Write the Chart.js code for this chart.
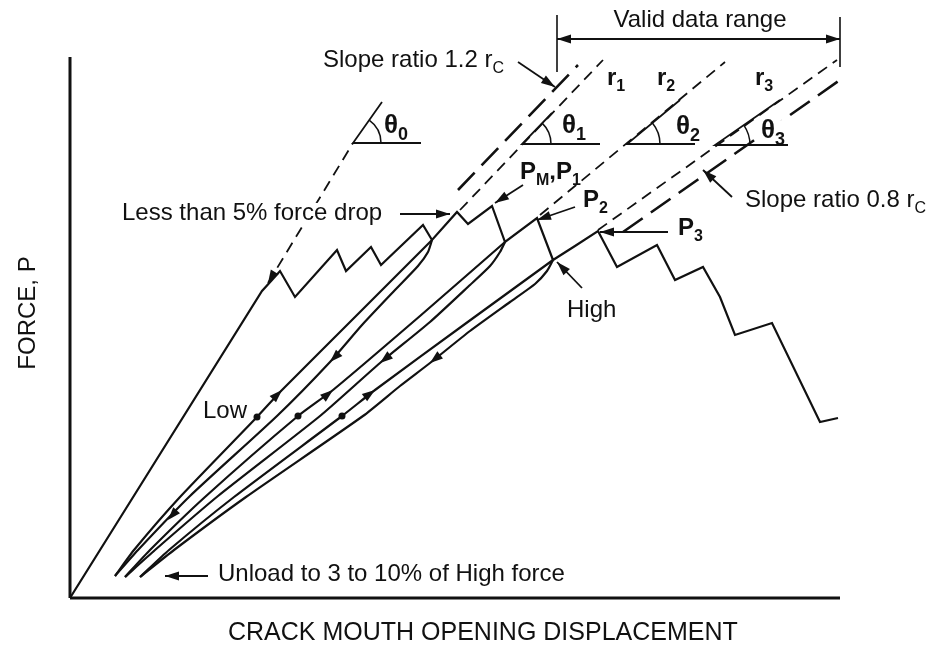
<!DOCTYPE html>
<html>
<head>
<meta charset="utf-8">
<script src="https://cdn.jsdelivr.net/npm/chart.js@4.4.1/dist/chart.umd.min.js"></script>
<style>
  html, body { margin: 0; padding: 0; background: #fff; }
  #wrap { width: 935px; height: 658px; position: relative; }
</style>
</head>
<body>
<div id="wrap"><canvas id="chart"></canvas></div>
<script>
// schematic, arbitrary units: CMOD 0..770, force 0..541
const cmodMax = 770;
const forceMax = 541;

// load record with pop-ins, drops and the final saw-tooth
const envelope = [[0,0],[192,307],[202,318],[210,327],[225,301],[267,348],[276,327],[301,351],[311,333],[353,373],[362,358],[387,386],[398,374],[422,392],[435,356],[467,380],[483,338],[505,352],[528,367],[547,331],[587,353],[605,318],[633,331],[650,301],[665,263],[702,275],[750,176],[768,180]];

// unload / reload loops
const unload1 = [[362,358],[358,346],[348,332],[325,308],[292,273],[260,236],[207,182],[120,102],[68,48],[45,22]];
const reload1 = [[45,22],[64,48],[110,101],[187,181],[212,208],[287,283],[362,358]];
const unload2 = [[435,356],[430,346],[420,332],[400,313],[360,276],[310,235],[250,182],[148,102],[85,48],[55,21]];
const reload2 = [[55,21],[80,48],[135,101],[228,182],[263,208],[350,282],[435,356]];
const unload3 = [[483,338],[477,327],[465,314],[440,296],[400,267],[360,235],[330,212],[293,182],[176,101],[104,48],[70,21]];
const reload3 = [[70,21],[99,48],[164,101],[272,182],[305,208],[395,274],[483,338]];
const lowPoints = [[187,181],[228,182],[272,182]];

// secant lines
const r0Line = [[198,315],[283,455]];
const r1Line = [[390,388],[533,538]];
const r2Line = [[470,383],[655,536]];
const r3Line = [[528,368],[767,538]];
const upperBound = [[388,408],[508,533]];
const lowerBound = [[553,366],[770,518]];

// angle marks: vertex, end of sloped leg, end of level leg
const angleMarks = [
  { v: [283,455], leg: [312,496], level: 351, r: 28 },
  { v: [452,454], leg: [482,485], level: 530, r: 29 },
  { v: [557,454], leg: [610,498], level: 625, r: 33 },
  { v: [645,453], leg: [710,498], level: 718, r: 35 }
];

// valid data range bracket
const rangeTicks = [[[487,583],[487,526]], [[770,581],[770,531]]];

const notes = [
  { text: 'Valid data range', at: [630,578], align: 'center' },
  { text: 'Slope ratio 1.2 r_{C}', at: [253,538] },
  { text: 'Less than 5% force drop', at: [52,385], knockout: true },
  { text: 'Slope ratio 0.8 r_{C}', at: [675,398] },
  { text: 'High', at: [497,288] },
  { text: 'Low', at: [177,187], align: 'right' },
  { text: 'Unload to 3 to 10% of High force', at: [148,24] },
  { text: 'P_{M},P_{1}', at: [450,426], bold: true },
  { text: 'P_{2}', at: [513,398], bold: true },
  { text: 'P_{3}', at: [608,370], bold: true },
  { text: 'r_{1}', at: [537,520], bold: true },
  { text: 'r_{2}', at: [587,520], bold: true },
  { text: 'r_{3}', at: [685,520], bold: true },
  { text: 'θ_{0}', at: [314,472], bold: true, size: 26 },
  { text: 'θ_{1}', at: [492,472], bold: true, size: 26 },
  { text: 'θ_{2}', at: [606,471], bold: true, size: 26 },
  { text: 'θ_{3}', at: [691,467], bold: true, size: 26, knockout: true }
];

// [fromX, fromY, toX, toY], head at "to"
const pointers = [
  [628,559,487,559], [628,559,770,559],
  [448,536,485,511],
  [330,384,380,384],
  [453,413,425,395],
  [505,391,467,378],
  [598,366,530,366],
  [512,310,487,336],
  [662,401,633,428],
  [138,22,95,22]
];

// direction marks on the curves: tail -> tip
const flowMarks = [
  [202,198,212,208], [252,199,263,208], [294,200,305,208],
  [270,246,260,236], [320,243,310,235], [370,243,360,235],
  [106,87,98,78], [204,325,198,315]
];

const ink = '#111';
const fontFamily = '"Liberation Sans", Arial, Helvetica, sans-serif';

function pts(a) { return a.map(([x, y]) => ({ x, y })); }
function curve(data, extra) {
  return Object.assign({
    data: pts(data), showLine: true, borderColor: ink, borderWidth: 2.2,
    pointRadius: 0, tension: 0, fill: false, clip: false
  }, extra);
}

const datasets = [
  curve([[0,0],[0,forceMax]], { borderWidth: 3 }),
  curve([[0,0],[cmodMax,0]], { borderWidth: 3 }),
  curve(envelope),
  curve(unload1, { tension: 0.2 }), curve(reload1, { tension: 0.2 }),
  curve(unload2, { tension: 0.2 }), curve(reload2, { tension: 0.2 }),
  curve(unload3, { tension: 0.2 }), curve(reload3, { tension: 0.2 }),
  curve(r0Line, { borderWidth: 1.8, borderDash: [11, 7] }),
  curve(r1Line, { borderWidth: 1.8, borderDash: [11, 7] }),
  curve(r2Line, { borderWidth: 1.8, borderDash: [11, 7] }),
  curve(r3Line, { borderWidth: 1.8, borderDash: [11, 7] }),
  curve(upperBound, { borderWidth: 2.6, borderDash: [24, 10] }),
  curve(lowerBound, { borderWidth: 2.6, borderDash: [24, 10] }),
  ...angleMarks.map(m => curve([m.leg, m.v, [m.level, m.v[1]]], { borderWidth: 1.8 })),
  ...rangeTicks.map(t => curve(t, { borderWidth: 1.6 })),
  { data: pts(lowPoints), showLine: false, pointRadius: 3.5, pointBackgroundColor: ink, pointBorderWidth: 0, clip: false }
];

function drawRich(ctx, str, x, y, size, bold, align, knockout) {
  const parts = str.split(/_\{([^}]*)\}/);
  const w8 = bold ? 'bold ' : '';
  const mainFont = `${w8}${size}px ${fontFamily}`;
  const subFont = `${w8}${Math.round(size * 0.68)}px ${fontFamily}`;
  let w = 0;
  parts.forEach((p, i) => { ctx.font = i % 2 ? subFont : mainFont; w += ctx.measureText(p).width; });
  let cx = align === 'center' ? x - w / 2 : align === 'right' ? x - w : x;
  if (knockout) {
    ctx.save();
    ctx.fillStyle = '#fff';
    ctx.fillRect(cx - 2, y - size * 0.42, w + 4, size * 0.84);
    ctx.restore();
  }
  ctx.textAlign = 'left';
  ctx.textBaseline = 'middle';
  parts.forEach((p, i) => {
    ctx.font = i % 2 ? subFont : mainFont;
    ctx.fillText(p, cx, i % 2 ? y + size * 0.34 : y);
    cx += ctx.measureText(p).width;
  });
}

function arrowHead(ctx, x1, y1, x2, y2, len, half) {
  const a = Math.atan2(y2 - y1, x2 - x1);
  ctx.beginPath();
  ctx.moveTo(x2, y2);
  ctx.lineTo(x2 - len * Math.cos(a) + half * Math.sin(a), y2 - len * Math.sin(a) - half * Math.cos(a));
  ctx.lineTo(x2 - len * Math.cos(a) - half * Math.sin(a), y2 - len * Math.sin(a) + half * Math.cos(a));
  ctx.closePath();
  ctx.fill();
}

const annotate = {
  id: 'annotate',
  afterDatasetsDraw(chart) {
    const { ctx, scales: { x, y } } = chart;
    const px = v => x.getPixelForValue(v);
    const py = v => y.getPixelForValue(v);
    ctx.save();
    ctx.strokeStyle = ink;
    ctx.fillStyle = ink;
    ctx.lineWidth = 1.8;

    pointers.forEach(([x1, y1, x2, y2]) => {
      ctx.beginPath();
      ctx.moveTo(px(x1), py(y1));
      ctx.lineTo(px(x2), py(y2));
      ctx.stroke();
      arrowHead(ctx, px(x1), py(y1), px(x2), py(y2), 14, 4.5);
    });

    flowMarks.forEach(([x1, y1, x2, y2]) => {
      arrowHead(ctx, px(x1), py(y1), px(x2), py(y2), 13, 4.5);
    });

    angleMarks.forEach(m => {
      const vx = px(m.v[0]), vy = py(m.v[1]);
      const a = Math.atan2(py(m.leg[1]) - vy, px(m.leg[0]) - vx);
      ctx.beginPath();
      ctx.arc(vx, vy, m.r, a, 0, false);
      ctx.lineWidth = 1.5;
      ctx.stroke();
    });

    notes.forEach(n => {
      drawRich(ctx, n.text, px(n.at[0]), py(n.at[1]), n.size || 24, !!n.bold, n.align || 'left', n.knockout);
    });

    // axis titles
    const area = chart.chartArea;
    ctx.font = `25px ${fontFamily}`;
    ctx.textAlign = 'left';
    ctx.textBaseline = 'middle';
    ctx.fillText('CRACK MOUTH OPENING DISPLACEMENT', area.left + 158, area.bottom + 35);
    ctx.textAlign = 'center';
    ctx.translate(area.left - 42, py(285));
    ctx.rotate(-Math.PI / 2);
    ctx.font = `24px ${fontFamily}`;
    ctx.fillText('FORCE, P', 0, 0);
    ctx.restore();
  }
};

new Chart(document.getElementById('chart'), {
  type: 'scatter',
  data: { datasets },
  options: {
    responsive: true,
    maintainAspectRatio: false,
    animation: false,
    layout: { padding: { left: 70, right: 95, top: 57, bottom: 60 } },
    plugins: { legend: { display: false }, tooltip: { enabled: false } },
    scales: {
      x: { type: 'linear', min: 0, max: cmodMax, display: false },
      y: { type: 'linear', min: 0, max: forceMax, display: false }
    }
  },
  plugins: [annotate]
});
</script>
</body>
</html>
